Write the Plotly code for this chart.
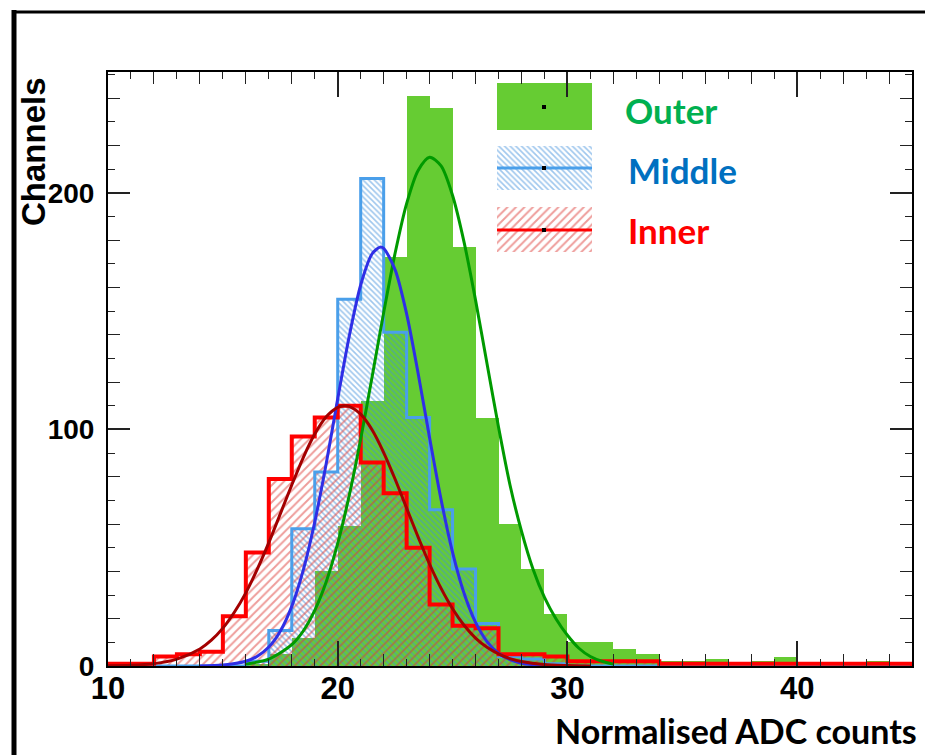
import plotly.graph_objects as go

# ---------------- data ----------------
bin_low = list(range(10, 45))          # histogram bins of width 1, 10..45
bin_width = 1

outer = [0, 0, 0, 0, 0, 0, 1, 5, 12, 40, 59, 112, 173, 241, 236, 177, 105, 60, 41, 22,
         10, 10, 7, 5, 2, 2, 3, 0, 2, 4, 0, 0, 0, 2, 0]
middle = [0, 0, 0, 0, 0, 0, 2, 15, 58, 82, 155, 206, 141, 105, 66, 41, 18, 4, 3, 1,
          0, 0, 0, 0, 0, 0, 0, 0, 0, 0, 0, 0, 0, 0, 0]
inner = [1, 1, 4, 5, 6, 21, 48, 79, 97, 105, 110, 86, 73, 50, 26, 17, 16, 5, 5, 4,
         2, 2, 2, 2, 1, 1, 1, 1, 1, 1, 1, 1, 1, 1, 1]

# fitted curves
fit_inner_x = [10, 11, 12, 13, 14, 14.5, 15, 15.5, 16, 16.5, 17, 17.5, 18, 18.5, 19, 19.5, 20, 20.3,
               20.5, 21, 21.5, 22, 22.5, 23, 23.5, 24, 24.5, 25, 25.5, 26, 26.5, 27, 27.5, 28, 29, 30, 31]
fit_inner_y = [0.1, 0.3, 1.0, 2.9, 7.2, 10.9, 16.0, 22.7, 30.9, 40.9, 52.1, 64.3, 76.5, 88.1, 98.0, 105.3, 109.3, 110,
               109.7, 106.4, 99.7, 90.2, 78.9, 66.7, 54.5, 43.0, 32.8, 24.2, 17.2, 11.8, 7.9, 5.1, 3.1, 1.9, 0.6, 0.2, 0.0]

fit_middle_x = [14, 15, 16, 16.5, 17, 17.5, 18, 18.5, 19, 19.5, 20, 20.5, 21, 21.5, 21.85, 22, 22.5,
                23, 23.5, 24, 24.5, 25, 25.5, 26, 26.5, 27, 27.5, 28, 29, 30]
fit_middle_y = [0.05, 0.4, 2.0, 4.1, 8.0, 14.7, 25.2, 40.5, 60.8, 85.6, 112.9, 139.3, 161.0, 174.2, 177, 176.5, 167.4,
                148.8, 123.7, 96.4, 70.3, 48.0, 30.7, 18.4, 10.3, 5.4, 2.7, 1.2, 0.2, 0.0]

fit_outer_x = [16, 17, 18, 18.5, 19, 19.5, 20, 20.5, 21, 21.5, 22, 22.5, 23, 23.5, 24, 24.5, 25, 25.5,
               26, 26.5, 27, 27.5, 28, 28.5, 29, 29.5, 30, 30.5, 31, 31.5, 32]
fit_outer_y = [0.8, 2.9, 9.0, 14.8, 23.5, 35.6, 51.8, 72.0, 95.9, 122.3, 149.3, 174.5, 195.4, 209.4, 215, 211.3, 198.8, 179.1,
               154.6, 127.7, 101.0, 76.5, 57, 41, 29, 20, 13, 7.5, 4, 2, 0.8]

x_ticks = [10, 20, 30, 40]
y_ticks = [0, 100, 200]
series_names = ["Outer", "Middle", "Inner"]
x_title = "Normalised ADC counts"
y_title = "Channels"

# ---------------- styles ----------------
GREEN = "#66cc33"
GREEN_FIT = "#009a00"
BLUE = "#4a9fea"
BLUE_HATCH = "#3f8fdc"
BLUE_FIT = "#2f2fe6"
RED = "#ff0000"
RED_HATCH = "#dd3a36"
RED_FIT = "#a30000"
TXT_GREEN = "#00b050"
TXT_BLUE = "#0070c0"
TXT_RED = "#ff0000"

W, H = 925, 755
L, R, T, B = 108, 13, 72, 89
PW, PH = W - L - R, H - T - B
XR = [10, 45]
YR = [0, 251]

centers = [b + bin_width / 2 for b in bin_low]

BLUE_PAT = dict(shape="\\", fgcolor=BLUE_HATCH, bgcolor="rgba(0,0,0,0)", size=4, solidity=0.4, fillmode="overlay")
RED_PAT = dict(shape="/", fgcolor=RED_HATCH, bgcolor="rgba(0,0,0,0)", size=6, solidity=0.32, fillmode="overlay")


def step(vals):
    xs = [bin_low[0]] + bin_low + [bin_low[-1] + bin_width, bin_low[-1] + bin_width]
    ys = [0] + vals + [vals[-1], 0]
    return xs, ys


fig = go.Figure()

# histograms (fills)
fig.add_trace(go.Bar(x=centers, y=outer, width=bin_width, marker=dict(color=GREEN, line=dict(width=0)),
                     showlegend=False, hoverinfo="skip"))
fig.add_trace(go.Bar(x=centers, y=middle, width=bin_width,
                     marker=dict(color="rgba(0,0,0,0)", line=dict(width=0), pattern=BLUE_PAT),
                     showlegend=False, hoverinfo="skip"))
fig.add_trace(go.Bar(x=centers, y=inner, width=bin_width,
                     marker=dict(color="rgba(0,0,0,0)", line=dict(width=0), pattern=RED_PAT),
                     showlegend=False, hoverinfo="skip"))

# histogram outlines
sx, sy = step(middle)
fig.add_trace(go.Scatter(x=sx, y=sy, mode="lines", line=dict(color=BLUE, width=3, shape="hv"),
                         showlegend=False, hoverinfo="skip"))
sx, sy = step(inner)
fig.add_trace(go.Scatter(x=sx, y=sy, mode="lines", line=dict(color=RED, width=4, shape="hv"),
                         showlegend=False, hoverinfo="skip"))

# fits
fig.add_trace(go.Scatter(x=fit_outer_x, y=fit_outer_y, mode="lines",
                         line=dict(color=GREEN_FIT, width=3, shape="spline", smoothing=0.8),
                         showlegend=False, hoverinfo="skip"))
fig.add_trace(go.Scatter(x=fit_middle_x, y=fit_middle_y, mode="lines",
                         line=dict(color=BLUE_FIT, width=3, shape="spline", smoothing=0.8),
                         showlegend=False, hoverinfo="skip"))
fig.add_trace(go.Scatter(x=fit_inner_x, y=fit_inner_y, mode="lines",
                         line=dict(color=RED_FIT, width=3, shape="spline", smoothing=0.8),
                         showlegend=False, hoverinfo="skip"))

# dummy trace for the medium-tick overlay axes
fig.add_trace(go.Scatter(x=[XR[0]], y=[YR[0]], mode="markers", marker=dict(opacity=0),
                         xaxis="x2", yaxis="y2", showlegend=False, hoverinfo="skip"))

# ---------- hand-drawn legend (pixel overlay axes x3/y3) ----------
def box(x0, y0, x1, y1):
    return [x0, x1, x1, x0, x0], [y0, y0, y1, y1, y0]

bx, by = box(497, 83, 592, 130)
fig.add_trace(go.Scatter(x=bx, y=by, fill="toself", fillcolor=GREEN, mode="lines",
                         line=dict(width=0, color=GREEN), xaxis="x3", yaxis="y3",
                         showlegend=False, hoverinfo="skip"))
bx, by = box(497, 146, 592, 190)
fig.add_trace(go.Scatter(x=bx, y=by, fill="toself", fillcolor="rgba(0,0,0,0)", mode="lines",
                         line=dict(width=0, color="rgba(0,0,0,0)"), fillpattern=BLUE_PAT,
                         xaxis="x3", yaxis="y3", showlegend=False, hoverinfo="skip"))
bx, by = box(497, 207, 592, 252)
fig.add_trace(go.Scatter(x=bx, y=by, fill="toself", fillcolor="rgba(0,0,0,0)", mode="lines",
                         line=dict(width=0, color="rgba(0,0,0,0)"), fillpattern=RED_PAT,
                         xaxis="x3", yaxis="y3", showlegend=False, hoverinfo="skip"))
fig.add_trace(go.Scatter(x=[497, 592], y=[168, 168], mode="lines", line=dict(color=BLUE, width=3),
                         xaxis="x3", yaxis="y3", showlegend=False, hoverinfo="skip"))
fig.add_trace(go.Scatter(x=[497, 592], y=[230, 230], mode="lines", line=dict(color=RED, width=3),
                         xaxis="x3", yaxis="y3", showlegend=False, hoverinfo="skip"))
fig.add_trace(go.Scatter(x=[544, 544, 544], y=[107, 168, 230], mode="markers",
                         marker=dict(color="black", size=4, symbol="square"),
                         xaxis="x3", yaxis="y3", showlegend=False, hoverinfo="skip"))


def px(xp):
    return (xp - L) / PW


def py(yp):
    return (H - B - yp) / PH


legend_text = [(series_names[0], 623, 110, TXT_GREEN), (series_names[1], 626, 170, TXT_BLUE),
               (series_names[2], 626, 230, TXT_RED)]
annotations = []
for txt, xp, yp, col in legend_text:
    annotations.append(dict(text="<b>" + txt + "</b>", xref="paper", yref="paper", x=px(xp), y=py(yp),
                            xanchor="left", yanchor="middle", showarrow=False,
                            font=dict(family="Lato", size=35, color=col)))
annotations.append(dict(text="<b>" + x_title + "</b>", xref="paper", yref="paper", x=px(919), y=py(730),
                        xanchor="right", yanchor="middle", showarrow=False,
                        font=dict(family="Lato", size=34, color="black")))
annotations.append(dict(text="<b>" + y_title + "</b>", xref="paper", yref="paper", x=px(33), y=py(152),
                        xanchor="center", yanchor="middle", showarrow=False, textangle=-90,
                        font=dict(family="Liberation Sans", size=33, color="black")))

shapes = [
    dict(type="line", xref="paper", yref="paper", x0=px(14), x1=px(14), y0=py(755), y1=py(10),
         line=dict(color="black", width=5)),
    dict(type="line", xref="paper", yref="paper", x0=px(12), x1=px(925), y0=py(12), y1=py(12),
         line=dict(color="black", width=3)),
]

xtickfont = dict(family="Liberation Sans", size=31, color="black", weight="bold")
ytickfont = dict(family="Liberation Sans", size=28, color="black", weight="bold")

fig.update_layout(
    width=W, height=H, margin=dict(l=L, r=R, t=T, b=B),
    paper_bgcolor="white", plot_bgcolor="white",
    barmode="overlay", bargap=0, showlegend=False,
    xaxis=dict(range=XR, tickvals=x_ticks, ticks="inside", ticklen=25, tickwidth=1.5, tickcolor="#222",
               showline=True, linecolor="black", linewidth=2, mirror="allticks",
               showgrid=False, zeroline=False, tickfont=xtickfont, ticklabelstandoff=-6,
               minor=dict(dtick=1, tick0=0, ticks="inside", ticklen=7, tickwidth=1, tickcolor="#222")),
    yaxis=dict(range=YR, tickvals=y_ticks, ticks="inside", ticklen=22, tickwidth=1.5, tickcolor="#222",
               showline=True, linecolor="black", linewidth=2, mirror="allticks",
               showgrid=False, zeroline=False, tickfont=ytickfont, ticklabelstandoff=6,
               minor=dict(dtick=10, tick0=0, ticks="inside", ticklen=7, tickwidth=1, tickcolor="#222")),
    xaxis2=dict(range=XR, overlaying="x", anchor="y2", side="bottom", dtick=2, tick0=0, ticks="inside",
                ticklen=12, tickwidth=1, tickcolor="#222", mirror="allticks", showline=False,
                showticklabels=False, showgrid=False, zeroline=False),
    yaxis2=dict(range=YR, overlaying="y", anchor="x2", side="left", dtick=20, tick0=0, ticks="inside",
                ticklen=12, tickwidth=1, tickcolor="#222", mirror="allticks", showline=False,
                showticklabels=False, showgrid=False, zeroline=False),
    xaxis3=dict(range=[L, W - R], overlaying="x", anchor="y3", visible=False),
    yaxis3=dict(range=[H - B, T], overlaying="y", anchor="x3", visible=False),
    annotations=annotations, shapes=shapes,
)

fig.write_html("out.html")
